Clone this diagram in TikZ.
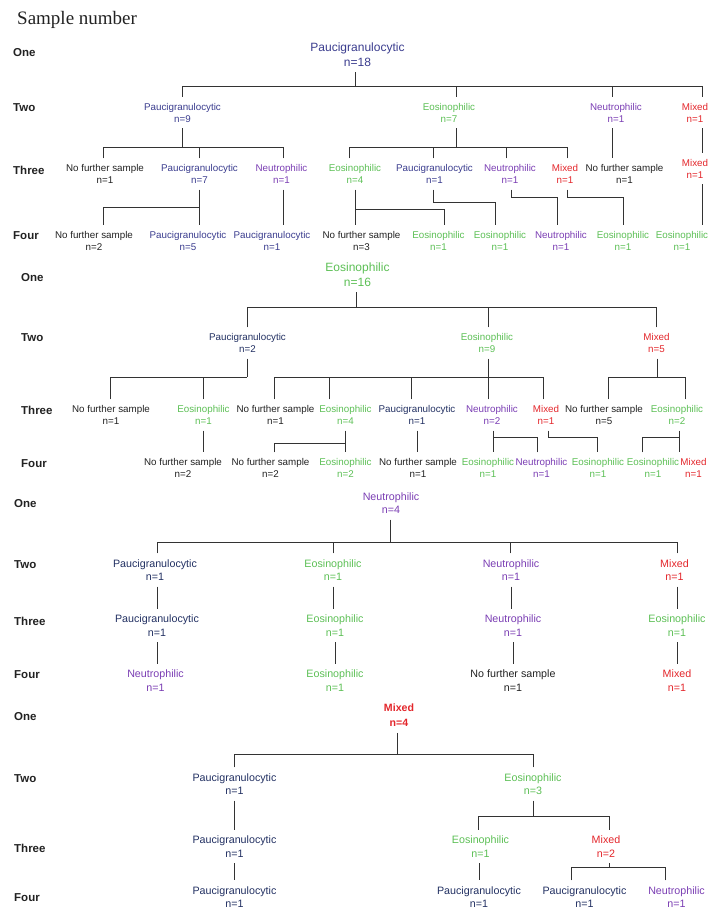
\documentclass[tikz,border=0pt]{standalone}
\usepackage{fontspec}
\setmainfont{Liberation Sans}
\newfontfamily\titlefont{Liberation Serif}
\usepackage{tikz}
\usetikzlibrary{calc}
\definecolor{ink}{HTML}{222222}
\definecolor{wire}{HTML}{333333}
\definecolor{cPauA}{HTML}{3A3C8E}
\definecolor{cPauB}{HTML}{223062}
\definecolor{cEos}{HTML}{5CBF55}
\definecolor{cNeu}{HTML}{7A3DB3}
\definecolor{cMix}{HTML}{E3262B}
\tikzset{
  link/.style={draw=wire, line width=0.9pt},
  lvl/.style={anchor=west, inner sep=0pt, text=ink, font=\fontsize{11.5}{14}\selectfont\bfseries},
  lab/.style={align=center, inner sep=0pt, outer xsep=0pt, outer ysep=6pt, font=\fontsize{9.8}{12}\selectfont},
  labb/.style={lab, font=\fontsize{10.7}{13.5}\selectfont},
  top/.style={lab, font=\fontsize{12}{15}\selectfont},
  pau/.style={text=cPauA},
  paub/.style={text=cPauB},
  eos/.style={text=cEos},
  neu/.style={text=cNeu},
  mix/.style={text=cMix},
  nfs/.style={text=ink},
}
\begin{document}
\begin{tikzpicture}[x=1pt,y=-1pt]
  \useasboundingbox (0,0) rectangle (711,914);
  \node[anchor=base west, inner sep=0pt, text=ink, font=\titlefont\fontsize{19}{22}\selectfont] (title) at (17,24.5) {Sample number};

  % first sample paucigranulocytic
  \node[lvl] (one1) at (13,53) {One};
  \node[lvl] (two1) at (13,108) {Two};
  \node[lvl] (three1) at (13,170) {Three};
  \node[lvl] (four1) at (13,236) {Four};
  \node[top, pau] (r1) at (357.5,54.5) {Paucigranulocytic\\n=18};
  \node[lab, pau] (a1) at (182.5,112.5) {Paucigranulocytic\\n=9};
  \node[lab, eos] (a2) at (449,112.5) {Eosinophilic\\n=7};
  \node[lab, neu] (a3) at (616,112.5) {Neutrophilic\\n=1};
  \node[lab, mix] (a4) at (695,112.5) {Mixed\\n=1};
  \node[lab, nfs] (b1) at (105,174) {No further sample\\n=1};
  \node[lab, pau] (b2) at (199.5,174) {Paucigranulocytic\\n=7};
  \node[lab, neu] (b3) at (281.5,174) {Neutrophilic\\n=1};
  \node[lab, eos] (b4) at (355,174) {Eosinophilic\\n=4};
  \node[lab, pau] (b5) at (434.5,174) {Paucigranulocytic\\n=1};
  \node[lab, neu] (b6) at (510,174) {Neutrophilic\\n=1};
  \node[lab, mix] (b7) at (565,174) {Mixed\\n=1};
  \node[lab, nfs] (b8) at (624.5,174) {No further sample\\n=1};
  \node[lab, mix] (b9) at (695,168.5) {Mixed\\n=1};
  \node[lab, nfs] (c1) at (94,240.5) {No further sample\\n=2};
  \node[lab, pau] (c2) at (188,240.5) {Paucigranulocytic\\n=5};
  \node[lab, pau] (c3) at (272,240.5) {Paucigranulocytic\\n=1};
  \node[lab, nfs] (c4) at (361.5,240.5) {No further sample\\n=3};
  \node[lab, eos] (c5) at (438.5,240.5) {Eosinophilic\\n=1};
  \node[lab, eos] (c6) at (500,240.5) {Eosinophilic\\n=1};
  \node[lab, neu] (c7) at (561,240.5) {Neutrophilic\\n=1};
  \node[lab, eos] (c8) at (623,240.5) {Eosinophilic\\n=1};
  \node[lab, eos] (c9) at (682,240.5) {Eosinophilic\\n=1};

  \coordinate (j1) at (355,86);
  \coordinate (j2) at (182,147);
  \coordinate (j3) at (456,147);
  \coordinate (j4) at (199,207);
  \coordinate (j5) at (355,209);
  \coordinate (j6) at (433,202);
  \coordinate (j7) at (511,197);
  \coordinate (j8) at (567,197);
  \draw[link] (j1 |- r1.south) -- (j1);
  \foreach \c/\d in {a1/0,a2/7,a3/-4,a4/7}
    \draw[link] ([xshift=\d pt]\c.north) |- (j1);
  \draw[link] (j2 |- a1.south) -- (j2);
  \foreach \c/\d in {b1/-2,b2/0,b3/1.5}
    \draw[link] ([xshift=\d pt]\c.north) |- (j2);
  \draw[link] (j3 |- a2.south) -- (j3);
  \foreach \c/\d in {b4/-6,b5/-1.5,b6/-4,b7/2}
    \draw[link] ([xshift=\d pt]\c.north) |- (j3);
  \draw[link] ([xshift=-4pt]a3.south) -- ([xshift=-4pt]a3.south |- b8.north);
  \draw[link] ([xshift=7pt]a4.south) -- ([xshift=7pt]a4.south |- b9.north);
  \draw[link] (j4 |- b2.south) -- (j4);
  \foreach \c/\d in {c1/9,c2/11}
    \draw[link] ([xshift=\d pt]\c.north) |- (j4);
  \draw[link] ([xshift=1.5pt]b3.south) -- ([xshift=1.5pt]b3.south |- c3.north);
  \draw[link] (j5 |- b4.south) -- (j5 |- c4.north);
  \draw[link] ([xshift=5.5pt]c5.north) |- (j5);
  \draw[link] (j6 |- b5.south) -- (j6) -| ([xshift=-5pt]c6.north);
  \draw[link] (j7 |- b6.south) -- (j7) -| ([xshift=-4pt]c7.north);
  \draw[link] (j8 |- b7.south) -- (j8) -| (c8.north);
  \draw[link] ([xshift=7pt]b9.south) -- ([xshift=7pt]b9.south |- c9.north);

  % first sample eosinophilic
  \node[lvl] (one2) at (21,278) {One};
  \node[lvl] (two2) at (21,338) {Two};
  \node[lvl] (three2) at (21,410) {Three};
  \node[lvl] (four2) at (21,464) {Four};
  \node[top, eos] (r2) at (357.5,274.5) {Eosinophilic\\n=16};
  \node[lab, paub] (d1) at (247.5,343) {Paucigranulocytic\\n=2};
  \node[lab, eos] (d2) at (487,343) {Eosinophilic\\n=9};
  \node[lab, mix] (d3) at (656.5,343) {Mixed\\n=5};
  \node[lab, nfs] (e1) at (111,415) {No further sample\\n=1};
  \node[lab, eos] (e2) at (203.5,415) {Eosinophilic\\n=1};
  \node[lab, nfs] (e3) at (275.5,415) {No further sample\\n=1};
  \node[lab, eos] (e4) at (345.5,415) {Eosinophilic\\n=4};
  \node[lab, paub] (e5) at (417,415) {Paucigranulocytic\\n=1};
  \node[lab, neu] (e6) at (492,415) {Neutrophilic\\n=2};
  \node[lab, mix] (e7) at (546,415) {Mixed\\n=1};
  \node[lab, nfs] (e8) at (604,415) {No further sample\\n=5};
  \node[lab, eos] (e9) at (677,415) {Eosinophilic\\n=2};
  \node[lab, nfs] (f1) at (183,468) {No further sample\\n=2};
  \node[lab, nfs] (f2) at (270.5,468) {No further sample\\n=2};
  \node[lab, eos] (f3) at (345.5,468) {Eosinophilic\\n=2};
  \node[lab, nfs] (f4) at (418,468) {No further sample\\n=1};
  \node[lab, eos] (f5) at (488,468) {Eosinophilic\\n=1};
  \node[lab, neu] (f6) at (541.5,468) {Neutrophilic\\n=1};
  \node[lab, eos] (f7) at (598,468) {Eosinophilic\\n=1};
  \node[lab, eos] (f8) at (653,468) {Eosinophilic\\n=1};
  \node[lab, mix] (f9) at (693.5,468) {Mixed\\n=1};

  \coordinate (k1) at (356,307);
  \coordinate (k2) at (247,377);
  \coordinate (k3) at (488,377);
  \coordinate (k4) at (657,377);
  \coordinate (k5) at (345,443);
  \coordinate (k6) at (493,437);
  \coordinate (k7) at (548,437);
  \coordinate (k8) at (679,437);
  \draw[link] (k1 |- r2.south) -- (k1);
  \foreach \c/\d in {d1/0,d2/1,d3/0}
    \draw[link] ([xshift=\d pt]\c.north) |- (k1);
  \draw[link] (k2 |- d1.south) -- (k2);
  \foreach \c/\d in {e1/-1,e2/0}
    \draw[link] ([xshift=\d pt]\c.north) |- (k2);
  \draw[link] (k3 |- d2.south) -- (k3);
  \foreach \c/\d in {e3/-1.5,e4/-16.5,e5/-6,e6/-4,e7/-3}
    \draw[link] ([xshift=\d pt]\c.north) |- (k3);
  \draw[link] (k4 |- d3.south) -- (k4);
  \foreach \c/\d in {e8/4,e9/8}
    \draw[link] ([xshift=\d pt]\c.north) |- (k4);
  \draw[link] (e2.south) -- (e2.south |- f1.north);
  \draw[link] (k5 |- e4.south) -- (k5 |- f3.north);
  \draw[link] ([xshift=3.5pt]f2.north) |- (k5);
  \draw[link] (e5.south) -- (e5.south |- f4.north);
  \draw[link] (k6 |- e6.south) -- (k6 |- f5.north);
  \draw[link] ([xshift=-4.5pt]f6.north) |- (k6);
  \draw[link] (k7 |- e7.south) -- (k7) -| ([xshift=-1pt]f7.north);
  \draw[link] (k8 |- e9.south) -- (k8 |- f9.north);
  \draw[link] ([xshift=-11pt]f8.north) |- (k8);

  % first sample neutrophilic
  \node[lvl] (one3) at (14,504) {One};
  \node[lvl] (two3) at (14,565) {Two};
  \node[lvl] (three3) at (14,621) {Three};
  \node[lvl] (four3) at (14,675) {Four};
  \node[labb, neu] (r3) at (391,503) {Neutrophilic\\n=4};
  \node[labb, paub] (g1) at (155,570) {Paucigranulocytic\\n=1};
  \node[labb, eos] (g2) at (333,570) {Eosinophilic\\n=1};
  \node[labb, neu] (g3) at (511,570) {Neutrophilic\\n=1};
  \node[labb, mix] (g4) at (674.5,570) {Mixed\\n=1};
  \node[labb, paub] (h1) at (157,625.5) {Paucigranulocytic\\n=1};
  \node[labb, eos] (h2) at (335,625.5) {Eosinophilic\\n=1};
  \node[labb, neu] (h3) at (513,625.5) {Neutrophilic\\n=1};
  \node[labb, eos] (h4) at (677,625.5) {Eosinophilic\\n=1};
  \node[labb, neu] (i1) at (155.5,680.5) {Neutrophilic\\n=1};
  \node[labb, eos] (i2) at (335,680.5) {Eosinophilic\\n=1};
  \node[labb, nfs] (i3) at (513,680.5) {No further sample\\n=1};
  \node[labb, mix] (i4) at (677,680.5) {Mixed\\n=1};

  \coordinate (m1) at (390,542);
  \draw[link] (m1 |- r3.south) -- (m1);
  \foreach \c/\d in {g1/2,g2/0,g3/-1,g4/2.5}
    \draw[link] ([xshift=\d pt]\c.north) |- (m1);
  \draw[link] (h1.north |- g1.south) -- (h1.north);
  \draw[link] (g2.south) -- (g2.south |- h2.north);
  \draw[link] (g3.south) -- (g3.south |- h3.north);
  \draw[link] (h4.north |- g4.south) -- (h4.north);
  \draw[link] (h1.south) -- (h1.south |- i1.north);
  \draw[link] (h2.south) -- (h2.south |- i2.north);
  \draw[link] (h3.south) -- (h3.south |- i3.north);
  \draw[link] (h4.south) -- (h4.south |- i4.north);

  % first sample mixed
  \node[lvl] (one4) at (14,717) {One};
  \node[lvl] (two4) at (14,779) {Two};
  \node[lvl] (three4) at (14,848) {Three};
  \node[lvl] (four4) at (14,898) {Four};
  \node[labb, mix, font=\fontsize{10.6}{15}\selectfont\bfseries] (r4) at (399,715.5) {Mixed\\n=4};
  \node[labb, paub] (p1) at (234.5,784) {Paucigranulocytic\\n=1};
  \node[labb, eos] (p2) at (533,784) {Eosinophilic\\n=3};
  \node[labb, paub] (q1) at (234.5,846.5) {Paucigranulocytic\\n=1};
  \node[labb, eos] (q2) at (480.5,846.5) {Eosinophilic\\n=1};
  \node[labb, mix] (q3) at (606,846.5) {Mixed\\n=2};
  \node[labb, paub] (s1) at (234.5,897) {Paucigranulocytic\\n=1};
  \node[labb, paub] (s2) at (479,897) {Paucigranulocytic\\n=1};
  \node[labb, paub] (s3) at (584.5,897) {Paucigranulocytic\\n=1};
  \node[labb, neu] (s4) at (676.5,897) {Neutrophilic\\n=1};

  \coordinate (n1) at (397,754);
  \coordinate (n2) at (533,816);
  \coordinate (n3) at (609,867);
  \draw[link] (n1 |- r4.south) -- (n1);
  \foreach \c/\d in {p1/0,p2/0}
    \draw[link] ([xshift=\d pt]\c.north) |- (n1);
  \draw[link] (p1.south) -- (p1.south |- q1.north);
  \draw[link] (n2 |- p2.south) -- (n2);
  \foreach \c/\d in {q2/-2.5,q3/3}
    \draw[link] ([xshift=\d pt]\c.north) |- (n2);
  \draw[link] (q1.south) -- (q1.south |- s1.north);
  \draw[link] (s2.north |- q2.south) -- (s2.north);
  \draw[link] (n3 |- q3.south) -- (n3);
  \foreach \c/\d in {s3/-13.5,s4/-11.5}
    \draw[link] ([xshift=\d pt]\c.north) |- (n3);
\end{tikzpicture}
\end{document}
